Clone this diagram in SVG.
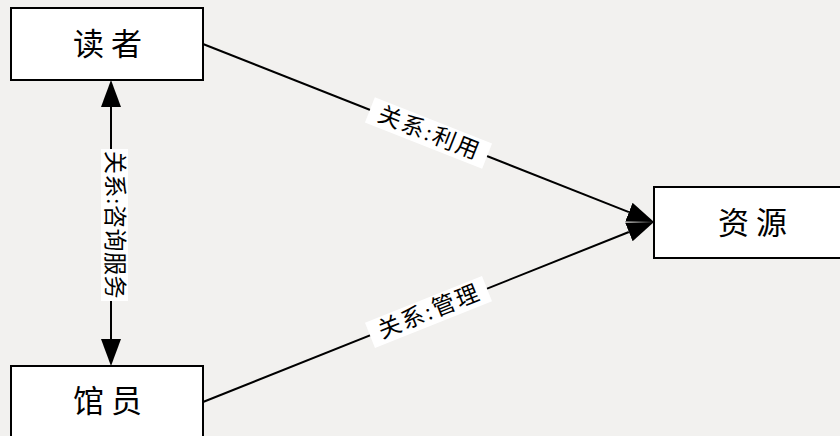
<svg xmlns="http://www.w3.org/2000/svg" width="840" height="436" viewBox="0 0 840 436">
<defs>
<marker id="arr" markerUnits="userSpaceOnUse" markerWidth="30" markerHeight="22" viewBox="0 -11 30 22" refX="0" refY="0" orient="auto-start-reverse">
<path d="M0,-10 L27,0 L0,10 z" fill="#000"/>
</marker>
</defs>
<style>
.box{fill:#fff;stroke:#000;stroke-width:2}
.nt{font-family:"Liberation Serif","Noto Sans CJK SC",serif;font-size:31px;letter-spacing:7px;fill:#000;text-anchor:middle}
.edge{stroke:#000;stroke-width:2;fill:none}
.lbg{fill:#fff}
.lt{font-family:"Liberation Serif","Noto Sans CJK SC",serif;font-size:23px;fill:#000;text-anchor:middle;dominant-baseline:central}
</style>
<rect x="0" y="0" width="840" height="436" fill="#f2f1ef"/>
<g id="edges">
<line class="edge" x1="111" y1="107" x2="111" y2="339" marker-start="url(#arr)" marker-end="url(#arr)"/>
<line class="edge" x1="203" y1="44" x2="628.9" y2="212.1" marker-end="url(#arr)"/>
<line class="edge" x1="203" y1="402" x2="628.9" y2="232.0" marker-end="url(#arr)"/>
<g id="label-consult" transform="translate(114.5,225) rotate(90)">
<rect class="lbg" x="-76" y="-13.5" width="152" height="27"/>
<text class="lt" x="0" y="0" letter-spacing="0.5">关系:咨询服务</text>
</g>
<g id="label-use" transform="translate(428.5,133) rotate(21.54)">
<rect class="lbg" x="-63" y="-13.5" width="126" height="27"/>
<text class="lt" x="1" y="0" font-size="24" letter-spacing="2">关系:利用</text>
</g>
<g id="label-manage" transform="translate(428.5,312) rotate(-21.76)">
<rect class="lbg" x="-63" y="-13.5" width="126" height="27"/>
<text class="lt" x="1" y="0" font-size="24" letter-spacing="2">关系:管理</text>
</g>
</g>
<g id="reader">
<rect class="box" x="11" y="8" width="192" height="72"/>
<text class="nt" x="111" y="55">读者</text>
</g>
<g id="librarian">
<rect class="box" x="11" y="366" width="192" height="72"/>
<text class="nt" x="111" y="412">馆员</text>
</g>
<g id="resource">
<rect class="box" x="654" y="187" width="192" height="71"/>
<text class="nt" x="756" y="234">资源</text>
</g>
</svg>
